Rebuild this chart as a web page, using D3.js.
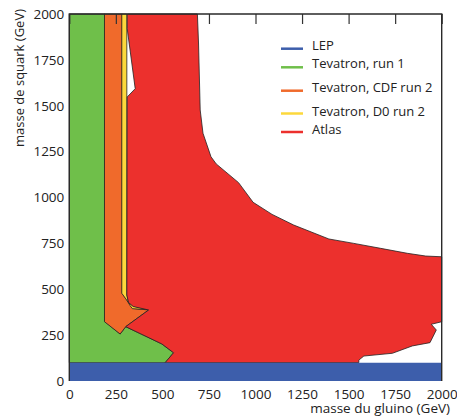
<!DOCTYPE html>
<html>
<head>
<meta charset="utf-8">
<script src="https://cdn.jsdelivr.net/npm/d3@7"></script>
<style>
body { margin: 0; background: #fff; }
svg { display: block; }
.axis text { font-family: "Open Sans", sans-serif; font-size: 13.5px; fill: #222; }
</style>
</head>
<body>
<svg id="chart" width="457" height="417"></svg>
<script>
// exclusion regions, [gluino mass, squark mass] in GeV
var lepPts = [[0,0],[2000,0],[2000,100],[0,100]];
var run1Pts = [[0,100],[0,2000],[192,2000],[192,323],[273,256],[303,296],[497,202],[560,154],[515,100]];
var cdfPts = [[189,2000],[284,2000],[284,478],[309,441],[327,414],[339,396],[426,387],[303,296],[273,256],[189,323]];
var d0Pts = [[282,2000],[309,2000],[309,469],[318,428],[343,408],[426,389],[339,394],[327,410],[309,440],[282,478]];
var atlasPts = [[311,2000],[688,2000],[694,1842],[703,1477],[718,1350],[761,1222],[789,1183],[909,1081],
  [987,974],[1089,908],[1205,850],[1394,774],[1528,750],[1672,723],[1815,696],[1914,681],[2000,677],
  [2000,323],[1944,309],[1971,278],[1937,209],[1842,191],[1735,151],[1582,136],[1555,114],[1555,100],
  [515,100],[560,154],[497,202],[303,296],[426,387],[343,406],[318,428],[309,469],[311,1548],[354,1593],[311,1920]];

var xTicks = [0,250,500,750,1000,1250,1500,1750,2000];
var yTicks = [0,250,500,750,1000,1250,1500,1750,2000];
var legendLabels = ["LEP","Tevatron, run 1","Tevatron, CDF run 2","Tevatron, D0 run 2","Atlas"];
var legendColors = ["#3d5eab","#6fbf4a","#f06a2b","#fcd83c","#ec302d"];

var svg = d3.select("#chart");

var x = d3.scaleLinear().domain([0,2000]).range([69.3,441.7]);
var y = d3.scaleLinear().domain([0,2000]).range([381,14]);

var line = d3.line()
  .x(function(d) { return x(d[0]); })
  .y(function(d) { return y(d[1]); });

function region(pts, color) {
  svg.append("path")
    .attr("d", line(pts) + "Z")
    .attr("fill", color)
    .attr("stroke", "#222")
    .attr("stroke-width", 0.8)
    .attr("stroke-linejoin", "round");
}

region(run1Pts, legendColors[1]);
region(cdfPts, legendColors[2]);
region(d0Pts, legendColors[3]);

// top ticks point inside the frame
svg.append("g")
  .attr("class", "axis")
  .attr("transform", "translate(0," + y(2000) + ")")
  .call(d3.axisTop(x).tickValues(xTicks).tickSizeInner(-10).tickSizeOuter(0).tickFormat(""))
  .call(function(g) { g.selectAll(".tick line").attr("stroke", "#333").attr("stroke-width", 1.2); g.select(".domain").remove(); });

region(atlasPts, legendColors[4]);

svg.append("path")
  .attr("d", line(lepPts) + "Z")
  .attr("fill", legendColors[0]);

// frame
svg.append("path")
  .attr("d", "M" + x(0) + "," + y(0) + "V" + y(2000) + "H" + x(2000) + "V" + y(0))
  .attr("fill", "none")
  .attr("stroke", "#2a2a2a")
  .attr("stroke-width", 1.4);

svg.append("g")
  .attr("class", "axis")
  .attr("transform", "translate(0," + y(0) + ")")
  .call(d3.axisBottom(x).tickValues(xTicks).tickFormat(d3.format("d")).tickSize(0).tickPadding(8))
  .call(function(g) { g.select(".domain").remove(); });

svg.append("g")
  .attr("class", "axis")
  .attr("transform", "translate(" + x(0) + ",0)")
  .call(d3.axisLeft(y).tickValues(yTicks).tickFormat(d3.format("d")).tickSize(0).tickPadding(5))
  .call(function(g) { g.select(".domain").remove(); });

svg.append("text")
  .attr("transform", "translate(24,9) rotate(-90)")
  .attr("text-anchor", "end")
  .attr("font-family", "Open Sans, sans-serif")
  .attr("font-size", 13)
  .attr("fill", "#222")
  .text("masse de squark (GeV)");

svg.append("text")
  .attr("x", 450)
  .attr("y", 413)
  .attr("text-anchor", "end")
  .attr("font-family", "Open Sans, sans-serif")
  .attr("font-size", 13.5)
  .attr("fill", "#222")
  .text("masse du gluino (GeV)");

// legend
var legY = [48.7, 67.3, 90.7, 113.5, 132];
var legend = svg.append("g")
  .selectAll("g")
  .data(legendLabels)
  .enter().append("g")
  .attr("transform", function(d, i) { return "translate(281," + legY[i] + ")"; });

legend.append("line")
  .attr("x1", 0)
  .attr("x2", 22)
  .attr("stroke", function(d, i) { return legendColors[i]; })
  .attr("stroke-width", 2.5);

legend.append("text")
  .attr("x", 31)
  .attr("y", function(d, i) { return i == 3 ? -2.5 : (i == 4 ? -3 : -3.5); })
  .attr("dy", "0.35em")
  .attr("font-family", "Open Sans, sans-serif")
  .attr("font-size", 13)
  .attr("fill", "#222")
  .text(function(d) { return d; });
</script>
</body>
</html>
